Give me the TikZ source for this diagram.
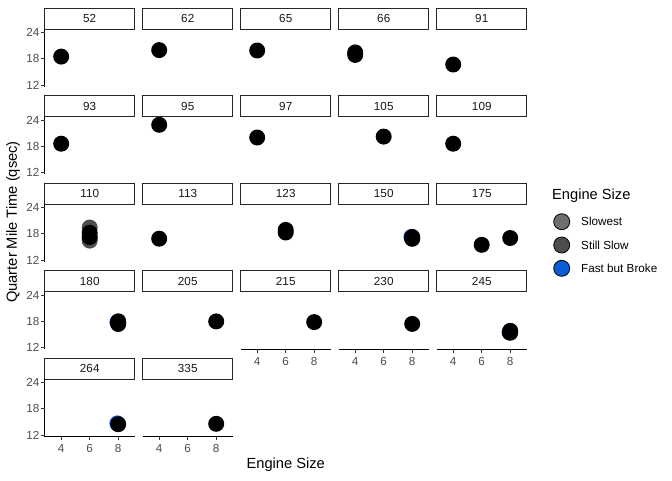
\documentclass[tikz,border=0pt]{standalone}
\usepackage{fontspec}
\setmainfont{Liberation Sans}
\usepackage{xcolor}
\definecolor{tickgray}{HTML}{333333}
\definecolor{labelgray}{HTML}{4D4D4D}
\definecolor{slowestgray}{HTML}{6E6E6E}
\definecolor{stillslowgray}{HTML}{4D4D4D}
\definecolor{brokeblue}{HTML}{0B5CD5}

\begin{document}
\begin{tikzpicture}[x=1pt,y=-1pt,
  strip/.style={draw=black!85, line width=0.8pt, fill=white, minimum width=90pt, minimum height=21pt, inner sep=0pt, text=black!90, font=\fontsize{11.7}{13}\selectfont},
  axisline/.style={line width=1pt, black},
  tickline/.style={line width=1pt, tickgray},
  ylab/.style={anchor=east, inner sep=0pt, text=labelgray, font=\fontsize{11.7}{13}\selectfont},
  xlab/.style={anchor=center, inner sep=0pt, text=labelgray, font=\fontsize{11.7}{13}\selectfont},
  axistitle/.style={inner sep=0pt, text=black, font=\fontsize{14.67}{16}\selectfont},
  legtext/.style={anchor=west, inner sep=0pt, text=black, font=\fontsize{11.7}{13}\selectfont},
  legkey/.style={draw=black, line width=0.8pt},
  dot/.style={fill=black}]

% Background and page size
\fill[white] (0,0) rectangle (672,480);
\useasboundingbox (0,0) rectangle (672,480);

% Draw strip boxes with hp labels
\node[strip] (strip52) at (89.75,18.5) {52};
\node[strip] (strip62) at (187.75,18.5) {62};
\node[strip] (strip65) at (285.75,18.5) {65};
\node[strip] (strip66) at (383.75,18.5) {66};
\node[strip] (strip91) at (481.75,18.5) {91};
\node[strip] (strip93) at (89.75,106) {93};
\node[strip] (strip95) at (187.75,106) {95};
\node[strip] (strip97) at (285.75,106) {97};
\node[strip] (strip105) at (383.75,106) {105};
\node[strip] (strip109) at (481.75,106) {109};
\node[strip] (strip110) at (89.75,193.5) {110};
\node[strip] (strip113) at (187.75,193.5) {113};
\node[strip] (strip123) at (285.75,193.5) {123};
\node[strip] (strip150) at (383.75,193.5) {150};
\node[strip] (strip175) at (481.75,193.5) {175};
\node[strip] (strip180) at (89.75,281) {180};
\node[strip] (strip205) at (187.75,281) {205};
\node[strip] (strip215) at (285.75,281) {215};
\node[strip] (strip230) at (383.75,281) {230};
\node[strip] (strip245) at (481.75,281) {245};
\node[strip] (strip264) at (89.75,368.5) {264};
\node[strip] (strip335) at (187.75,368.5) {335};

% Draw y axes of the first column
\draw[axisline] (44.5,29) -- (44.5,86.5);
\draw[tickline] (41,32.5) -- (44.5,32.5) (41,58.8) -- (44.5,58.8) (41,85.2) -- (44.5,85.2);
\node[ylab] (yA24) at (39.5,32.5) {24};
\node[ylab] (yA18) at (39.5,58.8) {18};
\node[ylab] (yA12) at (39.5,85.2) {12};

\draw[axisline] (44.5,116.5) -- (44.5,174);
\draw[tickline] (41,120) -- (44.5,120) (41,146.3) -- (44.5,146.3) (41,172.7) -- (44.5,172.7);
\node[ylab] (yB24) at (39.5,120) {24};
\node[ylab] (yB18) at (39.5,146.3) {18};
\node[ylab] (yB12) at (39.5,172.7) {12};

\draw[axisline] (44.5,204) -- (44.5,261.5);
\draw[tickline] (41,207.5) -- (44.5,207.5) (41,233.8) -- (44.5,233.8) (41,260.2) -- (44.5,260.2);
\node[ylab] (yC24) at (39.5,207.5) {24};
\node[ylab] (yC18) at (39.5,233.8) {18};
\node[ylab] (yC12) at (39.5,260.2) {12};

\draw[axisline] (44.5,291.5) -- (44.5,349);
\draw[tickline] (41,295) -- (44.5,295) (41,321.3) -- (44.5,321.3) (41,347.7) -- (44.5,347.7);
\node[ylab] (yD24) at (39.5,295) {24};
\node[ylab] (yD18) at (39.5,321.3) {18};
\node[ylab] (yD12) at (39.5,347.7) {12};

\draw[axisline] (44.5,379) -- (44.5,436.5);
\draw[tickline] (41,382.5) -- (44.5,382.5) (41,408.8) -- (44.5,408.8) (41,435.2) -- (44.5,435.2);
\node[ylab] (yE24) at (39.5,382.5) {24};
\node[ylab] (yE18) at (39.5,408.8) {18};
\node[ylab] (yE12) at (39.5,435.2) {12};

% Draw x axes under the last panel of each column
\draw[axisline] (44.5,436.5) -- (135,436.5);
\draw[tickline] (61.2,436.5) -- (61.2,440) (89.7,436.5) -- (89.7,440) (118.2,436.5) -- (118.2,440);
\node[xlab] (x264a) at (61.2,448.5) {4};
\node[xlab] (x264b) at (89.7,448.5) {6};
\node[xlab] (x264c) at (118.2,448.5) {8};

\draw[axisline] (142.5,436.5) -- (233,436.5);
\draw[tickline] (159.2,436.5) -- (159.2,440) (187.7,436.5) -- (187.7,440) (216.2,436.5) -- (216.2,440);
\node[xlab] (x335a) at (159.2,448.5) {4};
\node[xlab] (x335b) at (187.7,448.5) {6};
\node[xlab] (x335c) at (216.2,448.5) {8};

\draw[axisline] (240.5,349) -- (331,349);
\draw[tickline] (257.2,349) -- (257.2,352.5) (285.7,349) -- (285.7,352.5) (314.2,349) -- (314.2,352.5);
\node[xlab] (x215a) at (257.2,361) {4};
\node[xlab] (x215b) at (285.7,361) {6};
\node[xlab] (x215c) at (314.2,361) {8};

\draw[axisline] (338.5,349) -- (429,349);
\draw[tickline] (355.2,349) -- (355.2,352.5) (383.7,349) -- (383.7,352.5) (412.2,349) -- (412.2,352.5);
\node[xlab] (x230a) at (355.2,361) {4};
\node[xlab] (x230b) at (383.7,361) {6};
\node[xlab] (x230c) at (412.2,361) {8};

\draw[axisline] (436.5,349) -- (527,349);
\draw[tickline] (453.2,349) -- (453.2,352.5) (481.7,349) -- (481.7,352.5) (510.2,349) -- (510.2,352.5);
\node[xlab] (x245a) at (453.2,361) {4};
\node[xlab] (x245b) at (481.7,361) {6};
\node[xlab] (x245c) at (510.2,361) {8};

% Draw points, row 1
\fill[dot] (61.2,56.6) circle (8pt);
\fill[dot] (159.2,50.1) circle (8pt);
\fill[dot] (257.2,50.5) circle (8pt);
\fill[dot] (355.2,52.4) circle (8pt);
\fill[dot] (355.2,54.9) circle (8pt);
\fill[dot] (453.2,64.5) circle (8pt);

% Draw points, row 2
\fill[dot] (61.2,143.7) circle (8pt);
\fill[dot] (159.2,124.8) circle (8pt);
\fill[dot] (257.2,137.5) circle (8pt);
\fill[dot] (383.7,136.6) circle (8pt);
\fill[dot] (453.2,143.7) circle (8pt);

% Draw points, row 3
\fill[stillslowgray] (89.7,227.5) circle (8pt);
\fill[stillslowgray] (89.7,240.6) circle (8pt);
\fill[stillslowgray] (89.7,238.1) circle (8pt);
\fill[dot] (89.7,232.8) circle (8pt);
\fill[dot] (89.7,237) circle (8pt);
\fill[dot] (159.2,238.7) circle (8pt);
\fill[dot] (285.7,229.9) circle (8pt);
\fill[dot] (285.7,232.5) circle (8pt);
\fill[brokeblue] (411.4,237) circle (8pt);
\fill[dot] (412.2,236.9) circle (8pt);
\fill[dot] (412.2,238.8) circle (8pt);
\fill[dot] (481.7,244.8) circle (8pt);
\fill[dot] (510.2,238) circle (8pt);

% Draw points, row 4
\fill[brokeblue] (117.4,322.3) circle (8pt);
\fill[dot] (118.2,321.3) circle (8pt);
\fill[dot] (118.2,323.1) circle (8pt);
\fill[dot] (118.2,324) circle (8pt);
\fill[dot] (216.2,321.4) circle (8pt);
\fill[dot] (314.2,322.1) circle (8pt);
\fill[dot] (412.2,323.9) circle (8pt);
\fill[brokeblue!40!black] (509.6,332.4) circle (8pt);
\fill[dot] (510.2,330.8) circle (8pt);
\fill[dot] (510.2,332.7) circle (8pt);

% Draw points, row 5
\fill[brokeblue] (117.4,423.4) circle (8pt);
\fill[dot] (118.2,424.2) circle (8pt);
\fill[dot] (216.2,423.8) circle (8pt);

% Axis titles
\node[axistitle] (xtitle) at (285.75,465) {Engine Size};
\node[axistitle, rotate=90] (ytitle) at (13,222) {Quarter Mile Time (qsec)};

% Legend
\node[axistitle, anchor=west] (legtitle) at (552,196) {Engine Size};
\draw[legkey, fill=slowestgray] (561.7,221.7) circle (8pt);
\draw[legkey, fill=stillslowgray] (561.7,245) circle (8pt);
\draw[legkey, fill=brokeblue] (561.7,268.3) circle (8pt);
\node[legtext] (legslowest) at (581,221.7) {Slowest};
\node[legtext] (legstillslow) at (581,245) {Still Slow};
\node[legtext] (legbroke) at (581,268.3) {Fast but Broke};
\end{tikzpicture}
\end{document}
